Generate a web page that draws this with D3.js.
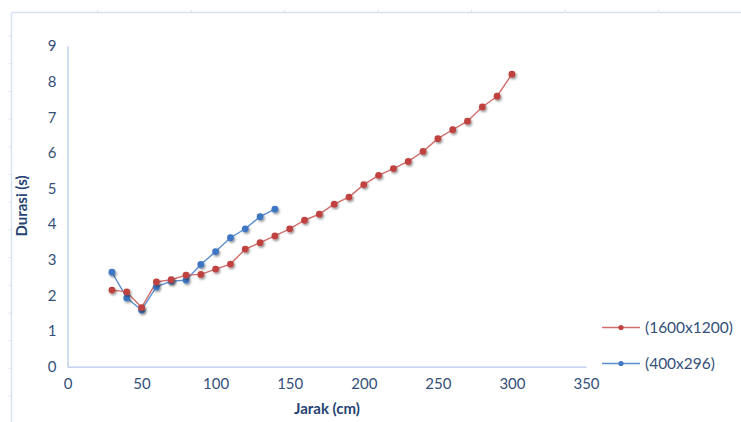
<!DOCTYPE html>
<html>
<head>
<meta charset="utf-8">
<script src="https://cdn.jsdelivr.net/npm/d3@7"></script>
<style>
  body { margin: 0; background: #fff; }
  svg { display: block; font-family: Lato, "Open Sans", sans-serif; }
</style>
</head>
<body>
<div id="chart"></div>
<script>
// data
const jarakRed = [30, 40, 50, 60, 70, 80, 90, 100, 110, 120, 130, 140, 150, 160,
  170, 180, 190, 200, 210, 220, 230, 240, 250, 260, 270, 280, 290, 300];
const durasiRed = [2.15, 2.10, 1.66, 2.38, 2.44, 2.57, 2.59, 2.74, 2.88, 3.30, 3.48, 3.67, 3.87, 4.11,
  4.28, 4.56, 4.76, 5.11, 5.37, 5.56, 5.76, 6.04, 6.40, 6.65, 6.89, 7.29, 7.59, 8.21];
const jarakBlue = [30, 40, 50, 60, 70, 80, 90, 100, 110, 120, 130, 140];
const durasiBlue = [2.65, 1.93, 1.59, 2.24, 2.40, 2.43, 2.87, 3.23, 3.62, 3.87, 4.21, 4.42];
const seriesNames = ["(1600x1200)", "(400x296)"];
const xTicks = [0, 50, 100, 150, 200, 250, 300, 350];
const yTicks = [0, 1, 2, 3, 4, 5, 6, 7, 8, 9];

const W = 741, H = 422;
const margin = { top: 46, left: 67.5, right: 155, bottom: 55 };

const svg = d3.select("#chart").append("svg")
  .attr("width", W).attr("height", H);

// drop shadow for markers
const defs = svg.append("defs");
const f = defs.append("filter").attr("id", "shadow")
  .attr("x", "-100%").attr("y", "-100%").attr("width", "300%").attr("height", "300%");
f.append("feDropShadow").attr("dx", 1.2).attr("dy", 1.6).attr("stdDeviation", 1.3)
  .attr("flood-color", "#000").attr("flood-opacity", 0.45);

// worksheet frame with little ruler ticks
const frameCol = "#d5e2f2";
svg.append("line").attr("x1", 11.5).attr("x2", W).attr("y1", 12.5).attr("y2", 12.5)
  .attr("stroke", frameCol).attr("stroke-width", 1.5);
svg.append("line").attr("x1", 11.5).attr("x2", 11.5).attr("y1", 12.5).attr("y2", H)
  .attr("stroke", frameCol).attr("stroke-width", 1.5);
svg.selectAll(".tt").data(d3.range(97.7, W, 93.5)).join("line")
  .attr("x1", d => d).attr("x2", d => d).attr("y1", 9.5).attr("y2", 12)
  .attr("stroke", "#dde3ea");
svg.selectAll(".lt").data(d3.range(36, H, 27.7)).join("line")
  .attr("x1", 8.5).attr("x2", 11).attr("y1", d => d).attr("y2", d => d)
  .attr("stroke", "#dde3ea");

const x = d3.scaleLinear().domain([0, 350]).range([margin.left, 586]);
const y = d3.scaleLinear().domain([0, 9]).range([366.7, margin.top]);

const tickCol = "#34507a", titleCol = "#264373", axisCol = "#b4c8e8";

// x axis
const gx = svg.append("g").attr("transform", `translate(0,${y(0)})`)
  .call(d3.axisBottom(x).tickValues(xTicks).tickSize(0).tickPadding(12));
gx.select(".domain").attr("stroke", axisCol).attr("stroke-width", 1.3);
gx.selectAll("text").attr("fill", tickCol).style("font-size", "15px")
  .style("font-family", "Lato, sans-serif");

// y axis
const gy = svg.append("g").attr("transform", `translate(${x(0)},0)`)
  .call(d3.axisLeft(y).tickValues(yTicks).tickSize(0).tickPadding(11));
gy.select(".domain").attr("stroke", axisCol).attr("stroke-width", 1.3);
gy.selectAll("text").attr("fill", tickCol).style("font-size", "15px")
  .style("font-family", "Lato, sans-serif");

// axis titles
svg.append("text").attr("x", 327).attr("y", 414).attr("text-anchor", "middle")
  .attr("fill", titleCol).style("font-weight", "bold").style("font-size", "15px")
  .text("Jarak (cm)");
svg.append("text").attr("transform", "translate(27,206) rotate(-90)")
  .attr("text-anchor", "middle")
  .attr("fill", titleCol).style("font-weight", "bold").style("font-size", "15px")
  .text("Durasi (s)");

const series = [
  { name: seriesNames[0], color: "#c0423f", lineColor: "#cf6e6b",
    pts: jarakRed.map((d, i) => [d, durasiRed[i]]) },
  { name: seriesNames[1], color: "#3e77c4", lineColor: "#5b8fd0",
    pts: jarakBlue.map((d, i) => [d, durasiBlue[i]]) }
];

const line = d3.line().x(d => x(d[0])).y(d => y(d[1]));

// draw blue first then red, red lines over blue as in picture
[series[1], series[0]].forEach(s => {
  svg.append("path").datum(s.pts).attr("d", line)
    .attr("fill", "none").attr("stroke", s.lineColor).attr("stroke-width", 1.4);
});
[series[1], series[0]].forEach(s => {
  svg.append("g").selectAll("circle").data(s.pts).join("circle")
    .attr("cx", d => x(d[0])).attr("cy", d => y(d[1])).attr("r", 3.4)
    .attr("fill", s.color).attr("filter", "url(#shadow)");
});

// legend
const leg = svg.append("g");
series.forEach((s, i) => {
  const ly = 327.5 + i * 36;
  leg.append("line").attr("x1", 602).attr("x2", 640).attr("y1", ly).attr("y2", ly)
    .attr("stroke", s.lineColor).attr("stroke-width", 1.4);
  leg.append("circle").attr("cx", 621).attr("cy", ly).attr("r", 2.6).attr("fill", s.color);
  leg.append("text").attr("x", 645).attr("y", ly).attr("dy", "0.35em")
    .attr("fill", tickCol).style("font-size", "15.5px").text(s.name);
});
</script>
</body>
</html>
